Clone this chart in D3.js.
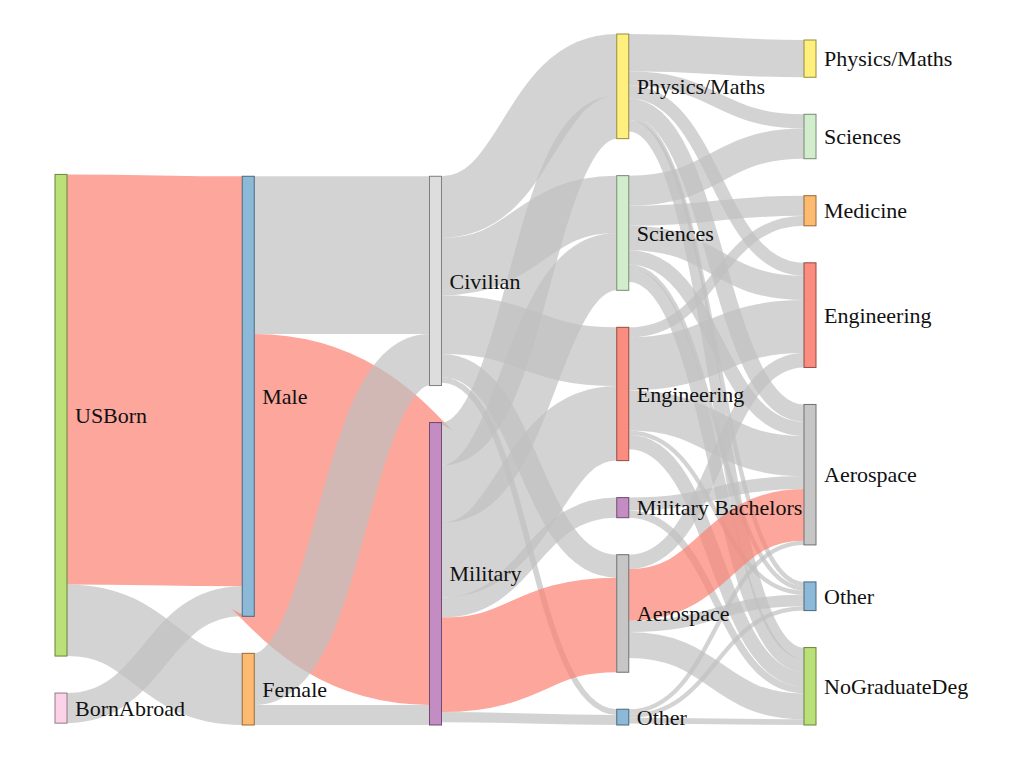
<!DOCTYPE html>
<html>
<head>
<meta charset="utf-8">
<script src="https://cdn.jsdelivr.net/npm/d3@7"></script>
<style>
  html, body { margin: 0; padding: 0; background: #fff; }
  svg { display: block; }
  .label { font-family: "Times New Roman", "Liberation Serif", "DejaVu Serif", serif; font-size: 22px; fill: #111; }
</style>
</head>
<body>
<svg id="chart" width="1022" height="762"></svg>
<script>
// ---------------- data ----------------
const nodeLabels = [
  "USBorn", "BornAbroad",
  "Male", "Female",
  "Civilian", "Military",
  "Physics/Maths", "Sciences", "Engineering", "Military Bachelors", "Aerospace", "Other",
  "Physics/Maths", "Sciences", "Medicine", "Engineering", "Aerospace", "Other", "NoGraduateDeg"
];
const linkSources = [
  0, 0, 1,
  2, 2, 3, 3,
  4, 4, 4, 4, 4,
  5, 5, 5, 5, 5, 5,
  6, 6, 6, 6, 6, 6,
  7, 7, 7, 7, 7, 7,
  8, 8, 8, 8, 8,
  9, 9,
  10, 10, 10, 10,
  11, 11, 11
];
const linkTargets = [
  2, 3, 2,
  4, 5, 4, 5,
  6, 7, 8, 10, 11,
  6, 7, 8, 9, 10, 11,
  12, 13, 15, 16, 17, 18,
  13, 14, 15, 16, 17, 18,
  14, 15, 16, 17, 18,
  16, 18,
  15, 16, 17, 18,
  16, 17, 18
];
const linkValues = [
  286, 50, 21,
  110, 197, 36, 14,
  43, 40, 41, 16, 4,
  30, 40, 52, 14, 66, 7,
  26, 10, 9, 12, 3, 8,
  21, 14, 17, 10, 3, 9,
  7, 37, 28, 3, 10,
  9, 5,
  10, 36, 8, 18,
  3, 3, 4
];
// highlighted path (source index, target index)
const highlightSources = [0, 2, 5, 10];
const highlightTargets = [2, 5, 10, 16];

// ---------------- styles ----------------
const nodeColors = [
  "#b3de69", "#fccde5",
  "#80b1d3", "#fdb462",
  "#d9d9d9", "#bc80bd",
  "#ffed6f", "#ccebc5", "#fb8072", "#bc80bd", "#c0c0c0", "#80b1d3",
  "#ffed6f", "#ccebc5", "#fdb462", "#fb8072", "#c0c0c0", "#80b1d3", "#b3de69"
];
const W = 1022, H = 762;
const EXT = { x0: 55, y0: 34, x1: 816, y1: 725 };
const NODE_W = 12, NODE_PAD = 37, ITER = 32;

// ---------------- sankey layout (classic centre-based relaxation, node order kept) ----------------
function sankeyLayout(nodes, links) {
  const { x0, y0, x1, y1 } = EXT;
  const sizeY = y1 - y0;
  nodes.forEach((n, i) => { n.index = i; n.sourceLinks = []; n.targetLinks = []; });
  links.forEach((l, i) => {
    l.index = i;
    l.source = nodes[l.source]; l.target = nodes[l.target];
    l.source.sourceLinks.push(l); l.target.targetLinks.push(l);
  });
  nodes.forEach(n => {
    n.value = Math.max(d3.sum(n.sourceLinks, l => l.value), d3.sum(n.targetLinks, l => l.value));
  });
  let remaining = nodes, nc = 0;
  while (remaining.length) {
    const nxt = [];
    remaining.forEach(n => {
      n.col = nc;
      n.sourceLinks.forEach(l => { if (nxt.indexOf(l.target) < 0) nxt.push(l.target); });
    });
    remaining = nxt; ++nc;
  }
  nodes.forEach(n => { if (!n.sourceLinks.length) n.col = nc - 1; });
  const xScale = d3.scaleLinear().domain([0, nc - 1]).range([x0, x1 - NODE_W]);
  nodes.forEach(n => { n.x0 = xScale(n.col); n.x1 = n.x0 + NODE_W; });

  const byCol = d3.groups(nodes, d => d.col).sort((a, b) => a[0] - b[0]).map(d => d[1]);
  const py = NODE_PAD;
  const ky = d3.min(byCol, ns => (sizeY - (ns.length - 1) * py) / d3.sum(ns, d => d.value));
  const vScale = d3.scaleLinear().domain([0, 1]).range([0, ky]);
  byCol.forEach(ns => ns.forEach((n, i) => { n.y = i; n.dy = vScale(n.value); }));
  links.forEach(l => { l.dy = vScale(l.value); });
  const center = n => n.y + n.dy / 2;

  function resolve() {
    byCol.forEach(ns => {
      let yy = 0, n, dy, i;
      for (i = 0; i < ns.length; ++i) {
        n = ns[i]; dy = yy - n.y;
        if (dy > 0) n.y += dy;
        yy = n.y + n.dy + py;
      }
      dy = yy - py - sizeY;
      if (dy > 0) {
        yy = n.y -= dy;
        for (i = ns.length - 2; i >= 0; --i) {
          n = ns[i]; dy = n.y + n.dy + py - yy;
          if (dy > 0) n.y -= dy;
          yy = n.y;
        }
      }
    });
  }
  function relaxLR(alpha) {
    byCol.forEach(ns => ns.forEach(n => {
      if (n.targetLinks.length) {
        const y = d3.sum(n.targetLinks, l => center(l.source) * l.value) / d3.sum(n.targetLinks, l => l.value);
        n.y += (y - center(n)) * alpha;
      }
    }));
  }
  function relaxRL(alpha) {
    byCol.slice().reverse().forEach(ns => ns.forEach(n => {
      if (n.sourceLinks.length) {
        const y = d3.sum(n.sourceLinks, l => center(l.target) * l.value) / d3.sum(n.sourceLinks, l => l.value);
        n.y += (y - center(n)) * alpha;
      }
    }));
  }
  resolve();
  for (let alpha = 1, it = ITER; it > 0; --it) {
    relaxRL(alpha *= 0.99); resolve();
    relaxLR(alpha); resolve();
  }
  nodes.forEach(n => {
    n.sourceLinks.sort((a, b) => a.target.y - b.target.y);
    n.targetLinks.sort((a, b) => a.source.y - b.source.y);
  });
  nodes.forEach(n => {
    n.y0 = y0 + n.y; n.y1 = n.y0 + n.dy;
    let sy = 0, ty = 0;
    n.sourceLinks.forEach(l => { l.sy = sy; sy += l.dy; });
    n.targetLinks.forEach(l => { l.ty = ty; ty += l.dy; });
  });
  links.forEach(l => {
    l.width = l.dy;
    l.y0 = l.source.y0 + l.sy + l.dy / 2;
    l.y1 = l.target.y0 + l.ty + l.dy / 2;
  });
}

// ---------------- build & draw ----------------
const nodes = nodeLabels.map((name, i) => ({ name, color: nodeColors[i] }));
const links = linkValues.map((v, i) => ({ source: linkSources[i], target: linkTargets[i], value: v }));
const isHighlight = (s, t) => highlightSources.some((hs, i) => hs === s && highlightTargets[i] === t);
links.forEach(l => { l.hl = isHighlight(l.source, l.target); });

sankeyLayout(nodes, links);

const svg = d3.select("#chart");
svg.append("rect").attr("width", W).attr("height", H).attr("fill", "#fff");

const linkPath = d3.linkHorizontal()
  .source(d => [d.source.x1, d.y0])
  .target(d => [d.target.x0, d.y1]);

svg.append("g").attr("fill", "none")
  .selectAll("path").data(links).join("path")
  .attr("d", linkPath)
  .attr("stroke", d => d.hl ? "#fb8072" : "#c0c0c0")
  .attr("stroke-opacity", 0.7)
  .attr("stroke-width", d => Math.max(1, d.width));

const gNode = svg.append("g").selectAll("g").data(nodes).join("g");
gNode.append("rect")
  .attr("x", d => d.x0).attr("y", d => d.y0)
  .attr("width", d => d.x1 - d.x0).attr("height", d => Math.max(1, d.y1 - d.y0))
  .attr("fill", d => d.color).attr("fill-opacity", 0.9)
  .attr("stroke", d => d3.rgb(d.color).darker(1.5)).attr("stroke-width", 1);

gNode.append("text")
  .attr("class", "label")
  .attr("x", d => d.x1 + 8)
  .attr("y", d => (d.y0 + d.y1) / 2)
  .attr("dy", "0.35em")
  .text(d => d.name);
</script>
</body>
</html>
